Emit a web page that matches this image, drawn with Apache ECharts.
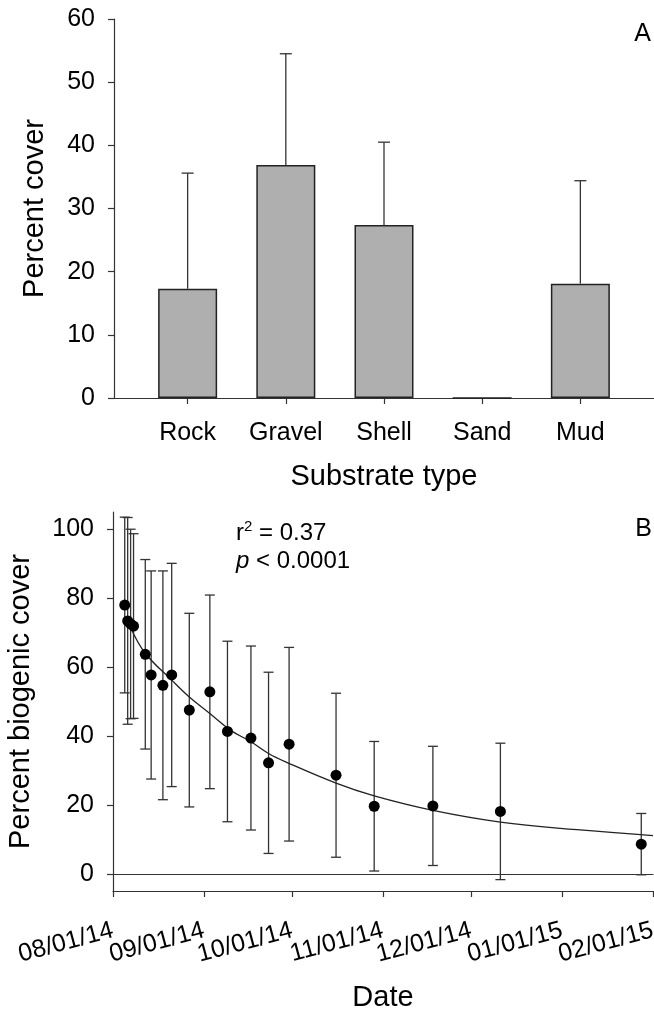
<!DOCTYPE html>
<html>
<head>
<meta charset="utf-8">
<script src="https://cdn.jsdelivr.net/npm/echarts@6/dist/echarts.min.js"></script>
<style>
    body { margin: 0; background: #fff; }
    #main { width: 654px; height: 1011px; }
</style>
</head>
<body>
<div id="main"></div>
<script>
// panel A - cover by substrate
var substrates = ['Rock', 'Gravel', 'Shell', 'Sand', 'Mud'];
var coverMean = [17.3, 36.9, 27.4, 0, 18.1];
var coverErr = [18.3, 17.6, 13.1, 0, 16.3];

// panel B - biogenic cover through time
var sampleDates = ['2014-08-05', '2014-08-06', '2014-08-07', '2014-08-08', '2014-08-12',
    '2014-08-14', '2014-08-18', '2014-08-21', '2014-08-27', '2014-09-03',
    '2014-09-09', '2014-09-17', '2014-09-23', '2014-09-30', '2014-10-16',
    '2014-10-29', '2014-11-18', '2014-12-11', '2015-01-28'];
var biogenicMean = [78.0, 73.4, 72.5, 71.9, 63.7, 57.7, 54.7, 57.7, 47.5, 52.8,
    41.3, 39.4, 32.2, 37.6, 28.6, 19.6, 19.7, 18.1, 8.6];
var biogenicErr = [25.5, 30.0, 27.5, 26.8, 27.5, 30.2, 33.2, 32.4, 28.1, 28.1,
    26.2, 26.7, 26.3, 28.1, 23.8, 18.8, 17.3, 19.8, 8.9];

// fitted curve
var fitDates = ['2014-08-07', '2014-08-12', '2014-08-21', '2014-08-27', '2014-09-03',
    '2014-09-10', '2014-09-17', '2014-09-23', '2014-09-29', '2014-10-16',
    '2014-10-29', '2014-11-18', '2014-12-11', '2015-01-06', '2015-02-01'];
var fitValues = [71.5, 64.0, 56.2, 51.3, 46.5, 41.7, 38.3, 34.9, 32.4, 26.3,
    22.6, 18.4, 15.0, 12.8, 11.1];

var dateTicks = ['2014-08-01', '2014-09-01', '2014-10-01', '2014-11-01',
    '2014-12-01', '2015-01-01', '2015-02-01'];
var coverTicks = [0, 20, 40, 60, 80, 100];

var FONT = 'Liberation Sans';
var INK = '#333';

function ts(s) {
    return Date.parse(s + 'T00:00:00Z');
}

function fmtDate(v) {
    var d = new Date(v);
    var p = function (n) { return (n < 10 ? '0' : '') + n; };
    return p(d.getUTCMonth() + 1) + '/' + p(d.getUTCDate()) + '/' + p(d.getUTCFullYear() % 100);
}

// whiskers: value(0)=x, value(1)=mean, value(2)=error
function errorBars(upperOnly, capHalf) {
    return function (params, api) {
        var x = api.value(0), y = api.value(1), e = api.value(2);
        if (!e) return null;
        var top = api.coord([x, y + e]);
        var bot = api.coord([x, upperOnly ? y : y - e]);
        var style = {stroke: INK, lineWidth: 1.3, fill: null};
        var kids = [
            {type: 'line', shape: {x1: top[0], y1: top[1], x2: bot[0], y2: bot[1]}, style: style},
            {type: 'line', shape: {x1: top[0] - capHalf, y1: top[1], x2: top[0] + capHalf, y2: top[1]}, style: style}
        ];
        if (!upperOnly) {
            kids.push({type: 'line', shape: {x1: bot[0] - capHalf, y1: bot[1], x2: bot[0] + capHalf, y2: bot[1]}, style: style});
        }
        return {type: 'group', children: kids};
    };
}

var lineStyle = {color: INK, width: 1.2};
var tickStyle = {color: INK, width: 1.2};
var labelStyle = {fontSize: 25, color: '#000', fontFamily: FONT};
var nameStyle = {fontSize: 29, color: '#000', fontFamily: FONT};
var plain = {color: '#000', fontFamily: FONT, fontWeight: 'normal'};

// plain line along the top of each panel
function topLine(gridIndex) {
    return {
        gridIndex: gridIndex, type: 'value', position: 'top', min: 0, max: 1,
        axisLine: {show: true, lineStyle: lineStyle},
        axisTick: {show: false}, axisLabel: {show: false}, splitLine: {show: false}
    };
}

// date labels split over two stacked axes so neighbours are never dropped
var dateMin = ts(dateTicks[0]);
var dateMax = ts(dateTicks[dateTicks.length - 1]);
function dateLabels(values, withLine) {
    return {
        gridIndex: 1, type: 'value', position: 'bottom', min: dateMin, max: dateMax,
        name: withLine ? 'Date' : '', nameLocation: 'middle', nameGap: 92, nameTextStyle: nameStyle,
        nameMoveOverlap: false,
        axisLine: {show: withLine, onZero: false, lineStyle: lineStyle},
        axisTick: {show: withLine, length: 6, customValues: dateTicks.map(ts), lineStyle: tickStyle},
        axisLabel: Object.assign({
            customValues: values, margin: 39, rotate: 15,
            showMinLabel: true, showMaxLabel: true, hideOverlap: false,
            formatter: fmtDate
        }, labelStyle),
        splitLine: {show: false}
    };
}
var evenTicks = dateTicks.filter(function (d, i) { return i % 2 === 0; }).map(ts);
var oddTicks = dateTicks.filter(function (d, i) { return i % 2 === 1; }).map(ts);

var catPos = substrates.map(function (s, i) { return i + 1; });

var myChart = echarts.init(document.getElementById('main'), null, {renderer: 'canvas'});
var option = {
    animation: false,
    backgroundColor: '#fff',
    title: [
        {text: 'A', right: 3, top: 22, padding: 0,
            textStyle: Object.assign({fontSize: 25}, plain)},
        {text: 'B', right: 2, top: 517, padding: 0,
            textStyle: Object.assign({fontSize: 25}, plain)},
        {text: '{t|r}{s|2}{t| = 0.37}\n{i|p}{t| < 0.0001}', left: 236, top: 519, padding: 0,
            textStyle: {
                fontWeight: 'normal',
                rich: {
                    t: Object.assign({fontSize: 24, lineHeight: 28}, plain),
                    s: Object.assign({fontSize: 15, lineHeight: 18, verticalAlign: 'top'}, plain),
                    i: Object.assign({fontSize: 24, lineHeight: 28, fontStyle: 'italic'}, plain)
                }
            }}
    ],
    grid: [
        {left: 114, top: 19, width: 540, height: 379, outerBoundsMode: 'none'},
        {left: 113, top: 512, width: 540, height: 379, outerBoundsMode: 'none'}
    ],
    xAxis: [
        {
            gridIndex: 0, type: 'value', min: 0.25, max: 5.75,
            name: 'Substrate type', nameLocation: 'middle', nameGap: 64, nameTextStyle: nameStyle,
            axisLine: {show: true, onZero: false, lineStyle: lineStyle},
            axisTick: {show: true, length: 6, customValues: catPos, lineStyle: tickStyle},
            axisLabel: Object.assign({
                customValues: catPos, margin: 23,
                formatter: function (v) { return substrates[v - 1]; }
            }, labelStyle),
            splitLine: {show: false}
        },
        topLine(0),
        dateLabels(evenTicks, true),
        topLine(1),
        dateLabels(oddTicks, false)
    ],
    yAxis: [
        {
            gridIndex: 0, type: 'value', min: 0, max: 60, interval: 10,
            name: 'Percent cover', nameLocation: 'middle', nameGap: 65, nameTextStyle: nameStyle,
            axisLine: {show: true, lineStyle: lineStyle},
            axisTick: {show: true, length: 6, lineStyle: tickStyle},
            axisLabel: Object.assign({margin: 19}, labelStyle),
            splitLine: {show: false}
        },
        {
            gridIndex: 1, type: 'value', min: -5, max: 105,
            name: 'Percent biogenic cover', nameLocation: 'middle', nameGap: 78, nameTextStyle: nameStyle,
            axisLine: {show: true, onZero: false, lineStyle: lineStyle},
            axisTick: {show: true, length: 6, customValues: coverTicks, lineStyle: tickStyle},
            axisLabel: Object.assign({margin: 19, customValues: coverTicks}, labelStyle),
            splitLine: {show: false}
        }
    ],
    series: [
        {
            name: 'cover', type: 'bar', xAxisIndex: 0, yAxisIndex: 0, barWidth: 59,
            data: substrates.map(function (s, i) { return [i + 1, coverMean[i]]; }),
            itemStyle: {color: '#afafaf', borderColor: '#222', borderWidth: 1.5}
        },
        {
            name: 'cover error', type: 'custom', xAxisIndex: 0, yAxisIndex: 0,
            renderItem: errorBars(true, 6),
            encode: {x: 0, y: 1},
            data: substrates.map(function (s, i) { return [i + 1, coverMean[i], coverErr[i]]; }),
            z: 3
        },
        {
            name: 'biogenic error', type: 'custom', xAxisIndex: 2, yAxisIndex: 1,
            renderItem: errorBars(false, 5),
            encode: {x: 0, y: 1},
            data: sampleDates.map(function (d, i) { return [ts(d), biogenicMean[i], biogenicErr[i]]; }),
            z: 2
        },
        {
            name: 'fit', type: 'line', xAxisIndex: 2, yAxisIndex: 1,
            smooth: 0.4, symbol: 'none',
            lineStyle: {color: '#222', width: 1.3},
            data: fitDates.map(function (d, i) { return [ts(d), fitValues[i]]; }),
            z: 3
        },
        {
            name: 'biogenic', type: 'scatter', xAxisIndex: 2, yAxisIndex: 1,
            symbolSize: 11,
            itemStyle: {color: '#000', opacity: 1},
            data: sampleDates.map(function (d, i) { return [ts(d), biogenicMean[i]]; }),
            z: 4
        }
    ]
};
option && myChart.setOption(option);
</script>
</body>
</html>
